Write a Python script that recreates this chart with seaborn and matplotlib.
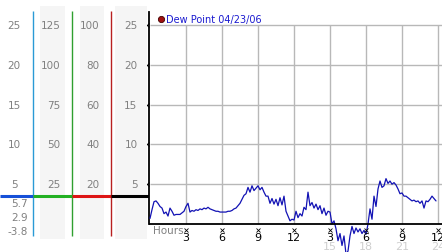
import numpy as np
import matplotlib
matplotlib.use("Agg")
import matplotlib.pyplot as plt
import seaborn as sns

# ---------------- data ----------------
# dew point (°C), 10-minute samples starting at midnight 04/23/06
dew_point = [
    0.7, 1.8, 2.8, 2.9, 2.6, 2.2, 2.0, 1.3, 1.5, 1.0, 2.0, 1.6,
    1.1, 1.2, 1.2, 1.2, 1.4, 1.6, 2.2, 2.6, 1.5, 1.7, 1.6, 1.8,
    1.7, 1.9, 1.8, 2.0, 1.9, 2.1, 1.9, 1.8, 1.7, 1.6, 1.6, 1.5,
    1.5, 1.5, 1.5, 1.6, 1.6, 1.7, 1.9, 2.0, 2.3, 2.6, 3.1, 3.6,
    3.8, 4.6, 4.0, 4.8, 4.2, 4.5, 4.8, 4.3, 4.6, 4.0, 3.5, 3.5,
    2.6, 3.2, 2.5, 3.1, 2.3, 3.3, 2.4, 3.5, 1.6, 1.0, 0.4, 0.6,
    0.5, 1.6, 0.8, 1.3, 1.0, 2.1, 1.8, 4.0, 2.3, 2.7, 2.0, 2.5,
    1.8, 2.3, 1.3, 2.0, 1.1, 1.6, 1.5, 0.0, 0.4, -0.6, -2.1, -1.2,
    -2.7, -1.5, -3.8, -3.4, -1.5, -0.3, -1.2, -0.5, -1.0, -0.6, -1.2, -0.8,
    -1.3, 0.0, 1.9, 0.6, 3.5, 2.2, 4.4, 5.4, 4.6, 4.8, 5.7, 5.1,
    5.4, 5.0, 5.2, 4.9, 4.4, 3.8, 3.9, 3.5, 3.5, 3.3, 3.1, 2.9,
    3.0, 2.8, 2.9, 2.6, 2.9, 2.0, 2.9, 2.8, 3.1, 3.5, 3.2, 2.9,
]
hours = np.arange(len(dew_point)) / 6.0

grid_values = [5, 10, 15, 20, 25]
grid_hours = [3, 6, 9, 12, 15, 18, 21, 24]
hour_labels = ["3", "6", "9", "12", "3", "6", "9", "12"]
pm_hours = [15, 18, 21, 24]
pm_labels = ["15", "18", "21", "24"]

# alternative scale columns (aligned with grid_values 5..25)
col1_labels = ["5", "10", "15", "20", "25"]
col2_labels = ["25", "50", "75", "100", "125"]
col3_labels = ["20", "40", "60", "80", "100"]
col4_labels = ["5", "10", "15", "20", "25"]
marker_level = 3.5

legend_label = "Dew Point 04/23/06"

# ---------------- style / layout ----------------
sns.set_style("white")
plt.rcParams["font.family"] = ["DejaVu Sans"]

W, H = 442, 253
Y0, PPU = 225.0, 7.96


def vy(py):
    return (Y0 - py) / PPU


ylim = (vy(H), vy(0))
fig = plt.figure(figsize=(W / 100, H / 100), dpi=100)
fig.patch.set_facecolor("white")

GRAY_TXT = "#808080"
GRID = "#b8b8b8"

# ---------- main chart ----------
ax = fig.add_axes([149 / W, 0, 1 - 149 / W, 1])
xmax = (W - 150) / 12
ax.set_xlim(-1 / 12, xmax)
ax.set_ylim(*ylim)
ax.set_facecolor("white")

ax.hlines(grid_values, 0, xmax, colors=GRID, lw=1, zorder=1)
ax.vlines(grid_hours, 0, 25, colors=GRID, lw=1, zorder=1)

sns.lineplot(x=hours, y=dew_point, ax=ax, color="#1212b4", lw=0.9, zorder=3)
ax.set_xlabel("")
ax.set_ylabel("")
ax.set_xticks([])
ax.set_yticks([])
for s in ["top", "right", "bottom"]:
    ax.spines[s].set_visible(False)
ax.spines["left"].set_bounds(0, vy(13))
ax.spines["left"].set_color("black")
ax.spines["left"].set_linewidth(1.3)
ax.axhline(0, color="black", lw=1.3, zorder=4)

# small tick glyphs
ax.plot([-0.21] * len(grid_values), grid_values, "x", color="black",
        ms=2.2, mew=0.6, clip_on=False, zorder=5)
ax.plot(grid_hours, [vy(230.5)] * len(grid_hours), "x", color="black",
        ms=2.2, mew=0.6, clip_on=False, zorder=5)

for h, lab in zip(grid_hours, hour_labels):
    ax.text(h, vy(238.5), lab, ha="center", va="center", fontsize=8, color="black")
for h, lab in zip(pm_hours, pm_labels):
    ax.text(h, vy(247.5), lab, ha="center", va="center", fontsize=8, color="#cfcfcf")
ax.text(0.22, vy(231), "Hours", ha="left", va="center", fontsize=7.5, color=GRAY_TXT)

# legend
ax.plot([11 / 12], [vy(20)], "o", ms=4.5, mfc="#a01010", mec="#400000", mew=0.6,
        clip_on=False, zorder=5)
ax.text(16 / 12, vy(20), legend_label, ha="left", va="center", fontsize=7,
        color="#1a1ad0")

# ---------- left scale panel ----------
lax = fig.add_axes([0, 0, 149 / W, 1])
lax.set_xlim(0, 149)
lax.set_ylim(*ylim)
lax.axis("off")

for x0, x1 in [(40, 65), (80, 104), (115, 147)]:
    lax.fill_betweenx([vy(240), vy(7)], x0, x1, color="#f5f5f5", lw=0, zorder=0)

for xv, c in [(33.3, "#2a9ad6"), (72.3, "#30a030"), (111.3, "#b82020")]:
    lax.vlines(xv, vy(237), vy(12), colors=c, lw=1, zorder=2)

for (x0, x1), c in zip([(0, 33.3), (33.3, 72.3), (72.3, 111.3), (111.3, 149)],
                       ["#1650d8", "#22b022", "#dd1515", "black"]):
    lax.hlines(marker_level, x0, x1, colors=c, lw=2.2, zorder=3)

for labs, xpos, ha in [(col1_labels, 14, "center"), (col2_labels, 60.5, "right"),
                       (col3_labels, 99.5, "right"), (col4_labels, 137.5, "right")]:
    for v, lab in zip(grid_values, labs):
        lax.text(xpos, v, lab, ha=ha, va="center", fontsize=7.5, color=GRAY_TXT)

stats = [max(dew_point), dew_point[-1], min(dew_point)]
for s, py in zip(stats, [204, 218, 232]):
    lax.text(27.5, vy(py), f"{s:.1f}", ha="right", va="center", fontsize=7.5,
             color=GRAY_TXT)

fig.savefig("out.png", dpi=100)
